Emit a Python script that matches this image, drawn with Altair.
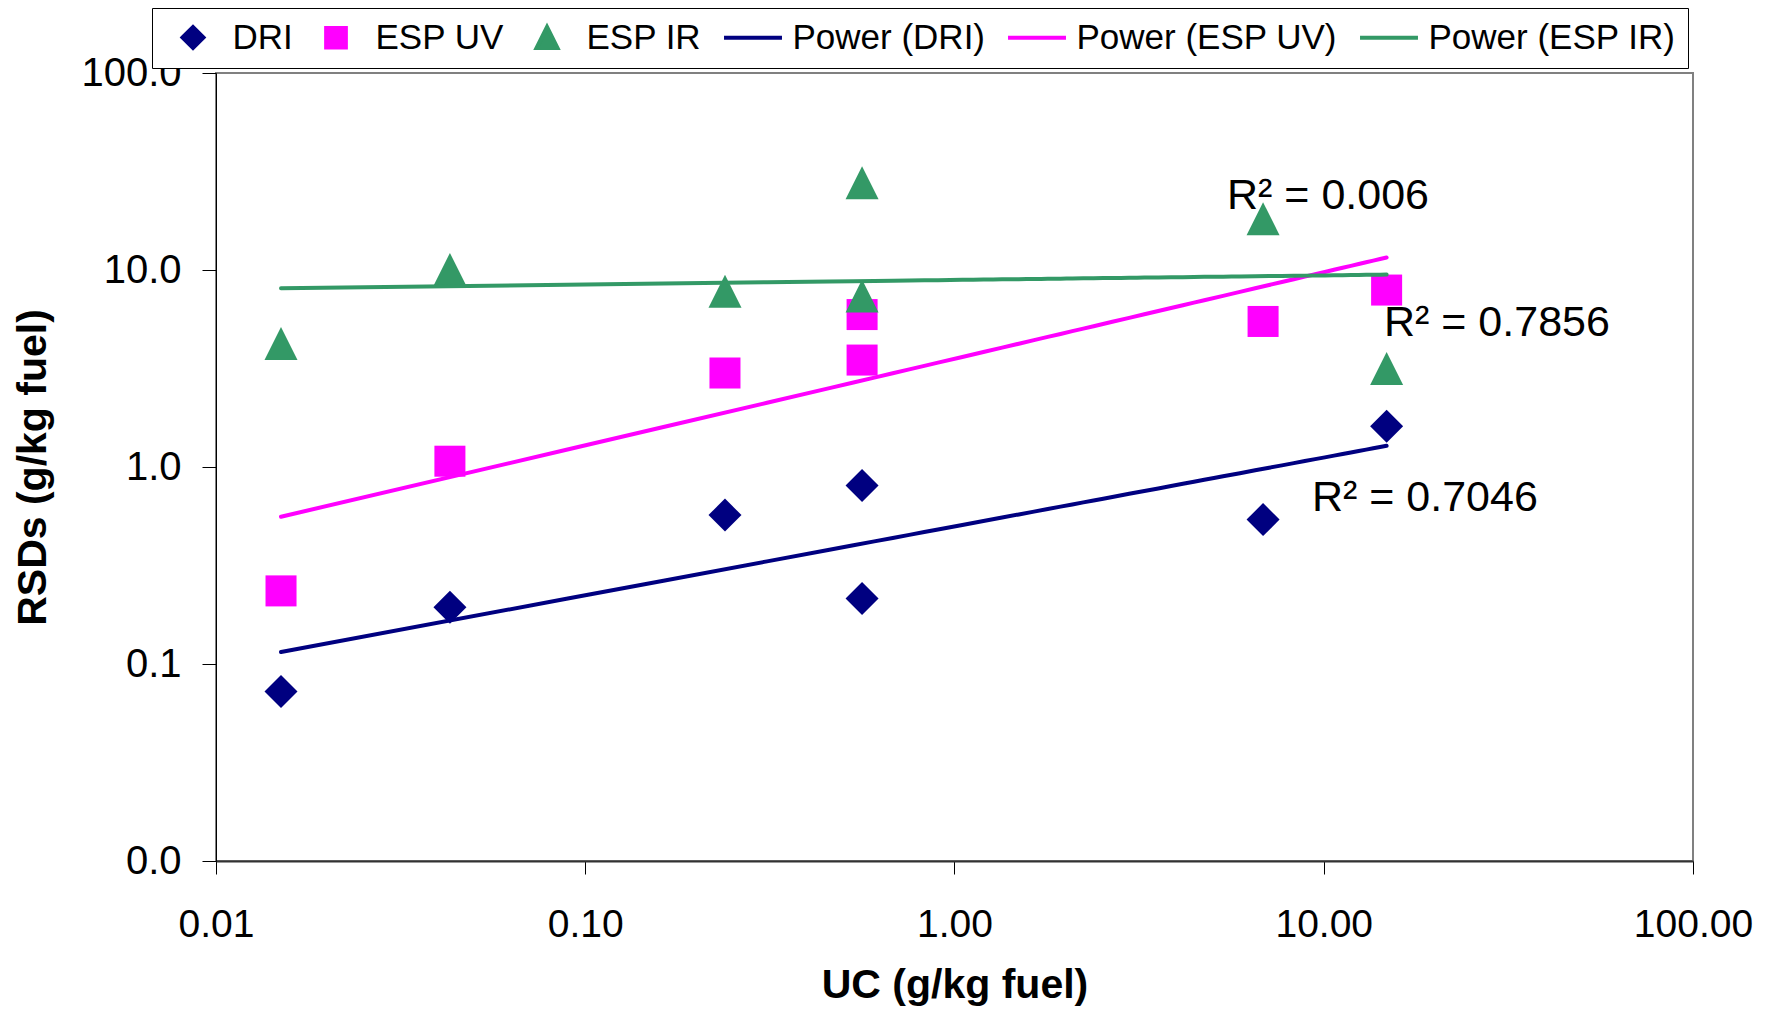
import altair as alt
import pandas as pd

FONT = "Liberation Sans"

# ---- values ----
uc = [0.015, 0.043, 0.239, 0.562, 0.562, 6.85, 14.8]          # UC (g/kg fuel)
dri = [0.0725, 0.194, 0.57, 0.805, 0.215, 0.541, 1.61]         # RSDs DRI
esp_uv = [0.235, 1.07, 3.0, 5.94, 3.49, 5.48, 7.91]            # RSDs ESP UV
esp_ir = [4.24, 10.07, 7.8, 27.7, 7.38, 18.2, 3.16]            # RSDs ESP IR

series = ["DRI", "ESP UV", "ESP IR"]
trend_names = ["Power (DRI)", "Power (ESP UV)", "Power (ESP IR)"]
series_colors = ["#000080", "#FF00FF", "#339966"]

r2_text = ["R² = 0.7046", "R² = 0.7856", "R² = 0.006"]
r2_x = [9.29, 14.56, 5.47]
r2_y = [0.692, 5.41, 23.75]

x_ticks = [0.01, 0.1, 1, 10, 100]
y_ticks = [0.01, 0.1, 1, 10, 100]

# ---- tables ----
rows = []
for name, vals in zip(series, [dri, esp_uv, esp_ir]):
    for xv, yv in zip(uc, vals):
        rows.append({"series": name, "x": xv, "y": yv})
df = pd.DataFrame(rows)
tdf = pd.DataFrame({"label": r2_text, "x": r2_x, "y": r2_y})

DIAMOND = "diamond"
SQUARE = "M-0.94,-0.94H0.94V0.94H-0.94Z"
TRIANGLE = "M0,-1L1,1H-1Z"
LINE = "M-2.76,0H2.76"

domain = series + trend_names
colors = series_colors * 2
shapes = [DIAMOND, SQUARE, TRIANGLE, LINE, LINE, LINE]

legend = alt.Legend(
    title=None, orient="none", legendX=-64, legendY=-65, direction="horizontal",
)

x_enc = alt.X(
    "x:Q",
    scale=alt.Scale(type="log", domain=[0.01, 100], nice=False),
    axis=alt.Axis(
        values=x_ticks, format=".2f", title="UC (g/kg fuel)", grid=False,
        tickSize=13, labelPadding=31, titlePadding=21, labelFlush=False,
        labelOverlap=False, domainColor="#333333", domainWidth=2,
        labelFontSize=39,
    ),
)
y_enc = alt.Y(
    "y:Q",
    scale=alt.Scale(type="log", domain=[0.01, 100], nice=False),
    axis=alt.Axis(
        values=y_ticks, format=".1f", title="RSDs (g/kg fuel)", grid=False,
        tickSize=14, labelPadding=21, titlePadding=26, labelFlush=False,
        labelOverlap=False, domainColor="black", domainWidth=1,
    ),
)
color_scale = alt.Scale(domain=domain, range=colors)

points = alt.Chart(df).mark_point(filled=True, size=1089, opacity=1).encode(
    x=x_enc,
    y=y_enc,
    color=alt.Color("series:N", scale=color_scale, legend=legend),
    shape=alt.Shape("series:N", scale=alt.Scale(domain=domain, range=shapes), legend=legend),
)

lines = (
    alt.Chart(df)
    .transform_regression("x", "y", groupby=["series"], method="pow")
    .transform_calculate(trend="'Power (' + datum.series + ')'")
    .mark_line(strokeWidth=4, strokeCap="round")
    .encode(
        x=x_enc,
        y=y_enc,
        color=alt.Color("trend:N", scale=color_scale, legend=legend),
    )
)

texts = alt.Chart(tdf).mark_text(
    align="left", baseline="middle", fontSize=43, font=FONT, color="black"
).encode(x=x_enc, y=y_enc, text="label:N")

chart = (
    alt.layer(points, lines, texts)
    .properties(
        width=1477,
        height=788,
        autosize=alt.AutoSizeParams(type="none"),
        padding={"left": 208, "top": 65, "right": 60, "bottom": 147},
    )
    .configure(font=FONT)
    .configure_view(stroke="#808080", strokeWidth=2)
    .configure_axis(
        labelFont=FONT, titleFont=FONT, labelColor="black", titleColor="black",
        tickColor="black", labelFontSize=40, titleFontSize=41,
        titleFontWeight="bold",
    )
    .configure_legend(
        padding=12, strokeColor="black", fillColor="white",
        labelFont=FONT, labelFontSize=35, labelColor="black",
        labelOffset=22, symbolOffset=11.5, symbolSize=441,
        symbolStrokeWidth=4, columnPadding=14, labelLimit=500,
        symbolFillColor="black",
    )
)

chart.save("out.html", embed_options={"renderer": "svg", "actions": False})
